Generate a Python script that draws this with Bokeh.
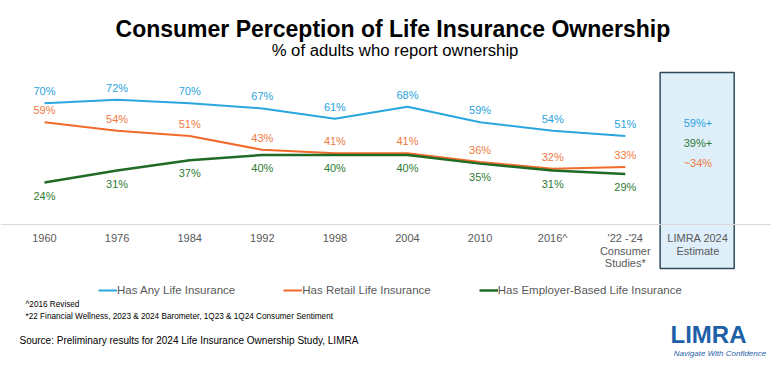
from bokeh.plotting import figure
from bokeh.models import Label, Legend, LegendItem, FixedTicker
from bokeh.core.properties import value
from bokeh.embed import file_html
from bokeh.resources import INLINE

# ---------------- data ----------------
categories = ["1960", "1976", "1984", "1992", "1998", "2004", "2010", "2016^",
              "'22 -'24\nConsumer\nStudies*"]
estimate_category = "LIMRA 2024\nEstimate"
any_life = [70, 72, 70, 67, 61, 68, 59, 54, 51]
retail_life = [59, 54, 51, 43, 41, 41, 36, 32, 33]
employer_life = [24, 31, 37, 40, 40, 40, 35, 31, 29]
estimate_labels = ["59%+", "39%+", "~34%"]
series_names = ["Has Any Life Insurance", "Has Retail Life Insurance",
                "Has Employer-Based Life Insurance"]

# ---------------- layout / style ----------------
W, H = 771, 360
FONT = "Liberation Sans"
BLUE, ORANGE, GREEN = "#29a6df", "#f26a2a", "#1f6b25"
BLUE_T, ORANGE_T, GREEN_T = "#2aa3dc", "#f07a3e", "#2f7b33"
GRAY_T = "#595959"
estimate_label_y = [58.4, 47.0, 35.2]   # vertical placement of estimate texts (data units)

xs = list(range(len(categories)))
est_x = len(categories)

p = figure(width=W, height=H, x_range=(-0.606, 10.014), y_range=(-79.13, 129.57),
           output_backend="svg", toolbar_location=None, min_border=0)
p.outline_line_color = None
p.background_fill_color = "white"
p.border_fill_color = "white"
p.xgrid.visible = False
p.ygrid.visible = False
p.yaxis.visible = False

# estimate box
p.quad(left=[est_x - 0.52], right=[est_x + 0.5], top=[87.8], bottom=[-25.8],
       fill_color="#deeffa", line_color="#2f4b5b", line_width=1.5)

# x axis
ax = p.xaxis[0]
ax.fixed_location = 0
ax.ticker = FixedTicker(ticks=xs + [est_x])
ax.major_label_overrides = {i: lab for i, lab in enumerate(categories + [estimate_category])}
ax.axis_line_color = "#d9d9d9"
ax.axis_line_width = 1
ax.major_tick_line_color = None
ax.minor_tick_line_color = None
ax.major_label_standoff = 2
ax.major_label_text_font = FONT
ax.major_label_text_font_size = "11px"
ax.major_label_text_color = GRAY_T
ax.major_label_text_line_height = 1.05

# lines
r_any = p.line(xs, any_life, line_color=BLUE, line_width=2)
r_ret = p.line(xs, retail_life, line_color=ORANGE, line_width=2)
r_emp = p.line(xs, employer_life, line_color=GREEN, line_width=2.5)

# data labels
common = dict(text_align="center", text_baseline="middle",
              text_font=value(FONT), text_font_size="11px")
p.text(xs, any_life, text=[f"{v}%" for v in any_life], y_offset=-12, text_color=BLUE_T, **common)
p.text(xs, retail_life, text=[f"{v}%" for v in retail_life], y_offset=-12, text_color=ORANGE_T, **common)
p.text(xs, employer_life, text=[f"{v}%" for v in employer_life], y_offset=13, text_color=GREEN_T, **common)

# estimate labels
p.text([est_x] * 3, estimate_label_y, text=estimate_labels,
       text_color=[BLUE_T, GREEN_T, ORANGE_T], **common)

# legend
legend = Legend(items=[LegendItem(label=series_names[0], renderers=[r_any]),
                       LegendItem(label=series_names[1], renderers=[r_ret]),
                       LegendItem(label=series_names[2], renderers=[r_emp])],
                orientation="horizontal", location=(98, 64),
                padding=0, margin=0, spacing=48, label_standoff=0,
                glyph_width=19, glyph_height=12, label_height=12,
                border_line_color=None, background_fill_alpha=0,
                label_text_font=FONT, label_text_font_size="11.5px",
                label_text_color=GRAY_T)
p.add_layout(legend)

# titles, footnotes, logo
def lab(text, x, y, size, color="black", style="normal", align="left"):
    p.add_layout(Label(x=x, y=y, x_units="screen", y_units="screen", text=text,
                       text_font=FONT, text_font_size=size, text_color=color,
                       text_font_style=style, text_align=align, text_baseline="middle"))

lab("Consumer Perception of Life Insurance Ownership", 392.4, 331.1, "23px", style="bold", align="center")
lab("% of adults who report ownership", 394.5, 309.7, "16.7px", align="center")
lab("^2016 Revised", 25, 56, "8.2px")
lab("*22 Financial Wellness, 2023 & 2024 Barometer, 1Q23 & 1Q24 Consumer Sentiment", 25, 44, "8.2px")
lab("Source: Preliminary results for 2024 Life Insurance Ownership Study, LIMRA", 19, 20.3, "10px")
lab("LIMRA", 708, 26, "24px", color="#1f5fa8", style="bold", align="center")
lab("Navigate With Confidence", 719.5, 6.7, "8px", color="#1f5fa8", style="italic", align="center")

open("out.html", "w").write(file_html(p, INLINE))
